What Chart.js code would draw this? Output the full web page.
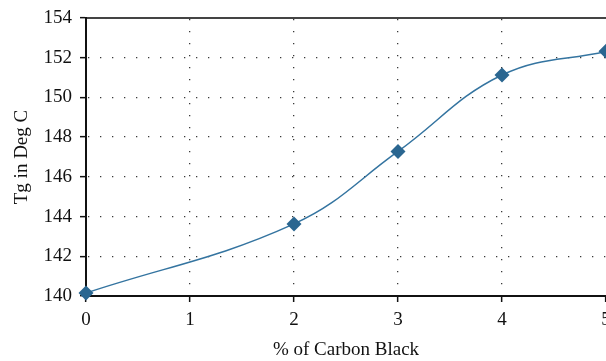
<!DOCTYPE html>
<html>
<head>
<meta charset="utf-8">
<script src="https://cdn.jsdelivr.net/npm/chart.js@4/dist/chart.umd.min.js"></script>
<style>
  html, body { margin: 0; padding: 0; background: #fff; overflow: hidden; }
  #wrap { position: relative; width: 606px; height: 361px; }
</style>
</head>
<body>
<div id="wrap"><canvas id="c"></canvas></div>
<script>
const carbonBlack = [0, 2, 3, 4, 5];
const tgValues = [140.15, 143.63, 147.28, 151.13, 152.32];
const xTicks = [0, 1, 2, 3, 4, 5];
const yTicks = [140, 142, 144, 146, 148, 150, 152, 154];
const xTitle = '% of Carbon Black';
const yTitle = 'Tg in Deg C';

const serif = "'Liberation Serif', 'DejaVu Serif', serif";

new Chart(document.getElementById('c'), {
  type: 'line',
  data: {
    datasets: [{
      data: carbonBlack.map((x, i) => ({ x: x, y: tgValues[i] })),
      borderColor: '#3474a0',
      borderWidth: 1.5,
      backgroundColor: '#2a6690',
      pointBackgroundColor: '#2a6690',
      pointBorderColor: '#2a6690',
      pointStyle: 'rectRot',
      pointRadius: 7.5,
      pointBorderWidth: 0,
      tension: 0.4,
      fill: false,
      clip: false
    }]
  },
  options: {
    responsive: true,
    maintainAspectRatio: false,
    animation: false,
    layout: { padding: 0, autoPadding: false },
    plugins: { legend: { display: false }, tooltip: { enabled: false } },
    scales: {
      x: {
        type: 'linear',
        position: 'bottom',
        min: 0, max: 5,
        afterBuildTicks: s => { s.ticks = xTicks.map(v => ({ value: v })); },
        afterFit: s => { s.height = 65; s.paddingLeft = 0; s.paddingRight = 0; },
        ticks: { color: '#111', font: { family: serif, size: 19 }, padding: 7, maxRotation: 0 },
        grid: {
          color: ctx => (ctx.tick && (ctx.tick.value === 0 || ctx.tick.value === 5)) ? 'rgba(0,0,0,0)' : '#3a3a3a',
          lineWidth: 1.3,
          tickColor: '#111',
          tickLength: 6,
          tickWidth: 1.5
        },
        border: { display: true, color: '#111', width: 2, dash: [1.3, 10.7], dashOffset: -1 },
        title: { display: true, text: xTitle, color: '#111', font: { family: serif, size: 19 }, padding: { top: 1, bottom: 0 } }
      },
      x2: {
        type: 'linear',
        position: 'top',
        min: 0, max: 5,
        afterFit: s => { s.height = 18; s.paddingLeft = 0; s.paddingRight = 0; },
        ticks: { display: false },
        grid: { display: false },
        border: { display: true, color: '#444', width: 2 }
      },
      y: {
        type: 'linear',
        position: 'left',
        min: 140, max: 154,
        afterBuildTicks: s => { s.ticks = yTicks.map(v => ({ value: v })); },
        afterFit: s => { s.width = 86; s.paddingTop = 0; s.paddingBottom = 0; },
        ticks: { color: '#111', font: { family: serif, size: 19 }, padding: 8 },
        grid: {
          color: ctx => (ctx.tick && (ctx.tick.value === 140 || ctx.tick.value === 154)) ? 'rgba(0,0,0,0)' : '#3a3a3a',
          lineWidth: 1.3,
          tickColor: '#111',
          tickLength: 6,
          tickWidth: 1.5
        },
        border: { display: true, color: '#111', width: 2, dash: [1.3, 10.7], dashOffset: -1 },
        title: { display: true, text: yTitle, color: '#111', font: { family: serif, size: 19 }, padding: { top: 11, bottom: 0 } }
      }
    }
  }
});
</script>
</body>
</html>
